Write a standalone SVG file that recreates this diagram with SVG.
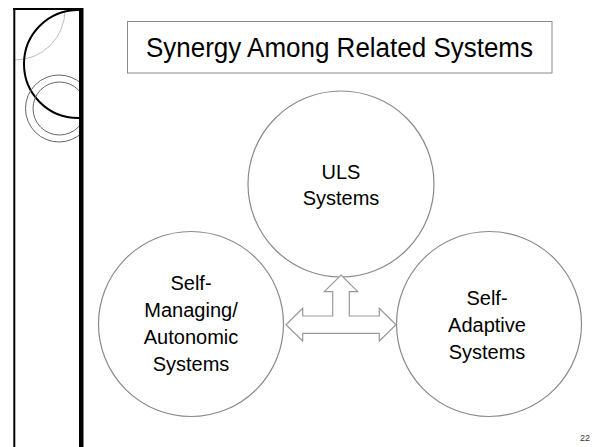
<svg xmlns="http://www.w3.org/2000/svg" width="601" height="447" viewBox="0 0 601 447">
  <style>
    .lbl { font-family: "Liberation Sans", Arial, sans-serif; font-size: 20px; fill: #000; text-anchor: middle; }
    .node { fill: #fff; stroke: #8a8a8a; stroke-width: 1.2; }
    .deco-thin { fill: none; stroke: #666; stroke-width: 1; }
  </style>
  <defs>
    <clipPath id="sideclip">
      <rect x="15" y="9" width="64" height="438"/>
    </clipPath>
  </defs>
  <rect x="0" y="0" width="601" height="447" fill="#fff"/>

  <!-- side decoration -->
  <g id="decoration">
    <g clip-path="url(#sideclip)">
      <circle cx="15" cy="10" r="50" fill="none" stroke="#bdbdbd" stroke-width="1"/>
      <circle cx="78" cy="64" r="54" fill="none" stroke="#000" stroke-width="2"/>
      <circle cx="59" cy="108.5" r="33.5" class="deco-thin"/>
      <circle cx="59.5" cy="108.5" r="26.5" class="deco-thin"/>
    </g>
    <line x1="13" y1="9" x2="80" y2="9" stroke="#000" stroke-width="2"/>
    <line x1="14.3" y1="8" x2="14.3" y2="447" stroke="#000" stroke-width="2"/>
    <rect x="79" y="8" width="4.5" height="439" fill="#000"/>
  </g>

  <!-- title -->
  <g id="title">
    <rect x="127.5" y="21.5" width="424.5" height="51.5" fill="#fff" stroke="#8a8a8a" stroke-width="1"/>
    <text x="339.5" y="57" font-family="'Liberation Sans', Arial, sans-serif" font-size="27" text-anchor="middle" textLength="387" lengthAdjust="spacingAndGlyphs">Synergy Among Related Systems</text>
  </g>

  <!-- nodes -->
  <g id="uls">
    <circle cx="341" cy="184" r="93" class="node"/>
    <text class="lbl" x="341" y="178.5">ULS</text>
    <text class="lbl" x="341" y="204.5">Systems</text>
  </g>
  <g id="self-managing">
    <circle cx="191" cy="324" r="92.5" class="node"/>
    <text class="lbl" x="191" y="290">Self-</text>
    <text class="lbl" x="191" y="317">Managing/</text>
    <text class="lbl" x="191" y="344">Autonomic</text>
    <text class="lbl" x="191" y="371">Systems</text>
  </g>
  <g id="self-adaptive">
    <circle cx="489" cy="324" r="92.5" class="node"/>
    <text class="lbl" x="487" y="304.5">Self-</text>
    <text class="lbl" x="487" y="331.5">Adaptive</text>
    <text class="lbl" x="487" y="359">Systems</text>
  </g>

  <!-- connectors -->
  <g id="connectors">
    <polygon fill="#fff" stroke="#999" stroke-width="1.2" stroke-linejoin="miter"
      points="341,275 357.7,291.7 349.3,291.7 349.3,316 379.3,316 379.3,308.3 396,324.7 379.3,341 379.3,333.3 302.7,333.3 302.7,341 286,324.7 302.7,308.3 302.7,316 332.7,316 332.7,291.7 324.3,291.7"/>
  </g>

  <g id="page-number">
    <text x="585" y="441" font-family="'Liberation Sans', Arial, sans-serif" font-size="9" fill="#333" text-anchor="middle">22</text>
  </g>
</svg>
